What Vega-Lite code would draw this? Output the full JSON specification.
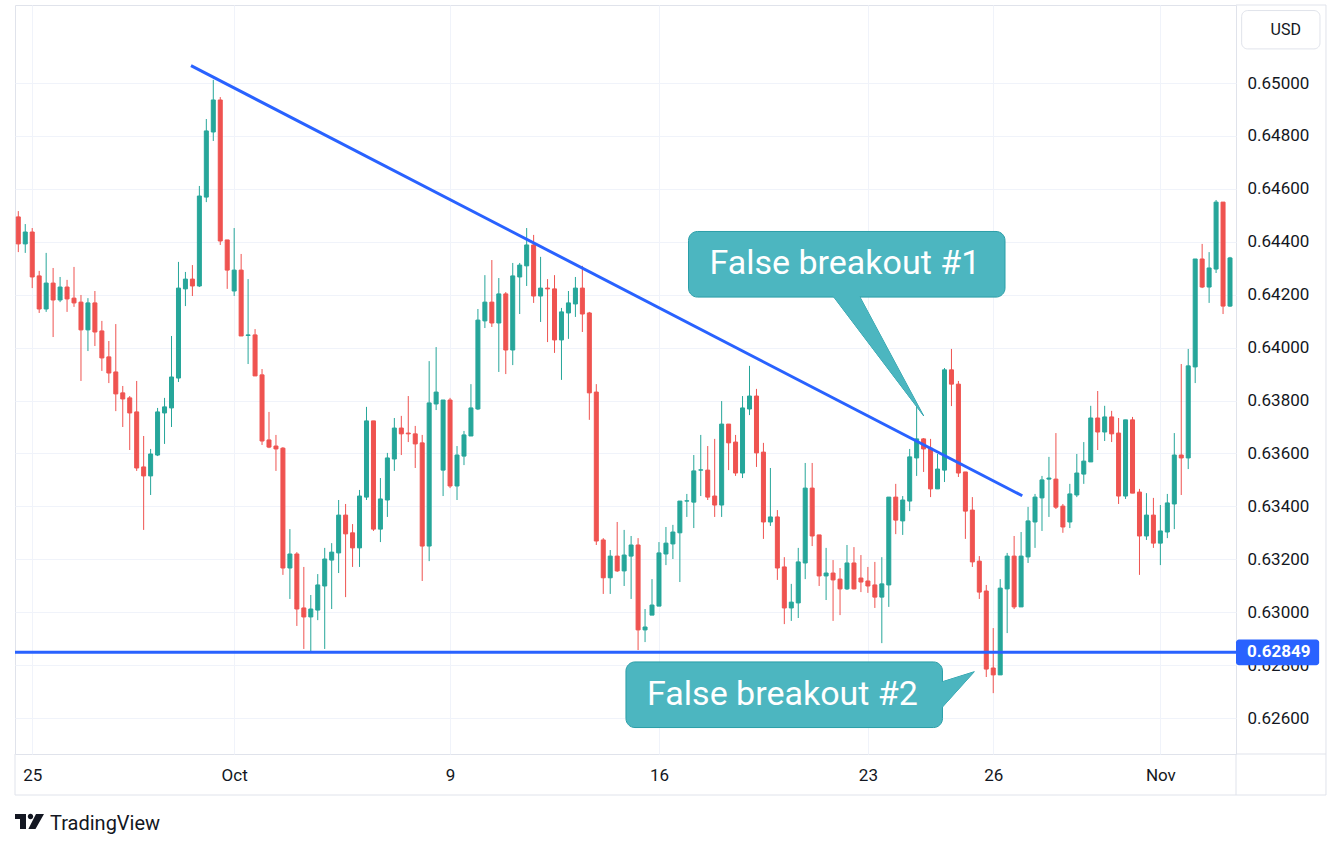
{
  "$schema": "https://vega.github.io/schema/vega-lite/v6.json",
  "width": 1221,
  "height": 749,
  "autosize": "none",
  "padding": {"left": 15, "top": 5, "right": 105, "bottom": 95},
  "background": "#ffffff",
  "datasets": {
    "candles": [
      {"i":0,"o":0.64494,"h":0.64516,"l":0.64361,"c":0.64392},
      {"i":1,"o":0.64392,"h":0.64467,"l":0.64358,"c":0.64437},
      {"i":2,"o":0.64437,"h":0.64452,"l":0.64225,"c":0.64267},
      {"i":3,"o":0.64271,"h":0.6429,"l":0.64131,"c":0.64146},
      {"i":4,"o":0.64146,"h":0.64358,"l":0.64135,"c":0.64244},
      {"i":5,"o":0.64244,"h":0.64301,"l":0.6404,"c":0.6418},
      {"i":6,"o":0.6418,"h":0.64267,"l":0.64172,"c":0.64229},
      {"i":7,"o":0.64229,"h":0.64256,"l":0.64135,"c":0.64184},
      {"i":8,"o":0.64187,"h":0.64305,"l":0.64154,"c":0.64169},
      {"i":9,"o":0.64172,"h":0.64199,"l":0.63874,"c":0.64067},
      {"i":10,"o":0.64067,"h":0.64187,"l":0.63987,"c":0.64169},
      {"i":11,"o":0.64169,"h":0.64214,"l":0.64006,"c":0.64059},
      {"i":12,"o":0.64063,"h":0.64101,"l":0.63912,"c":0.63961},
      {"i":13,"o":0.63965,"h":0.64025,"l":0.63866,"c":0.63904},
      {"i":14,"o":0.63908,"h":0.64089,"l":0.6376,"c":0.63825},
      {"i":15,"o":0.63829,"h":0.63855,"l":0.637,"c":0.63806},
      {"i":16,"o":0.6381,"h":0.63817,"l":0.63613,"c":0.63753},
      {"i":17,"o":0.63757,"h":0.63874,"l":0.63534,"c":0.63545},
      {"i":18,"o":0.63549,"h":0.63666,"l":0.63311,"c":0.63515},
      {"i":19,"o":0.63515,"h":0.63617,"l":0.63443,"c":0.63598},
      {"i":20,"o":0.63594,"h":0.63772,"l":0.6359,"c":0.63757},
      {"i":21,"o":0.63753,"h":0.6381,"l":0.63636,"c":0.63776},
      {"i":22,"o":0.63772,"h":0.64044,"l":0.637,"c":0.63889},
      {"i":23,"o":0.63885,"h":0.64324,"l":0.6387,"c":0.64225},
      {"i":24,"o":0.64222,"h":0.64286,"l":0.64157,"c":0.64259},
      {"i":25,"o":0.64259,"h":0.64312,"l":0.64195,"c":0.64233},
      {"i":26,"o":0.64233,"h":0.64611,"l":0.64229,"c":0.64573},
      {"i":27,"o":0.64569,"h":0.64864,"l":0.6455,"c":0.64819},
      {"i":28,"o":0.64815,"h":0.65012,"l":0.64781,"c":0.64936},
      {"i":29,"o":0.64936,"h":0.64947,"l":0.64388,"c":0.64403},
      {"i":30,"o":0.64407,"h":0.64407,"l":0.64222,"c":0.64293},
      {"i":31,"o":0.64214,"h":0.64452,"l":0.64195,"c":0.64293},
      {"i":32,"o":0.64293,"h":0.64354,"l":0.64044,"c":0.64044},
      {"i":33,"o":0.64046,"h":0.64259,"l":0.63938,"c":0.64048},
      {"i":34,"o":0.64048,"h":0.6407,"l":0.63893,"c":0.63893},
      {"i":35,"o":0.63897,"h":0.63919,"l":0.63632,"c":0.63647},
      {"i":36,"o":0.63651,"h":0.63757,"l":0.6362,"c":0.63624},
      {"i":37,"o":0.63628,"h":0.6367,"l":0.63534,"c":0.63617},
      {"i":38,"o":0.6362,"h":0.63624,"l":0.63141,"c":0.63167},
      {"i":39,"o":0.63167,"h":0.63314,"l":0.6305,"c":0.6322},
      {"i":40,"o":0.6322,"h":0.63227,"l":0.62948,"c":0.63012},
      {"i":41,"o":0.63016,"h":0.63171,"l":0.62861,"c":0.62982},
      {"i":42,"o":0.62982,"h":0.63065,"l":0.62846,"c":0.63012},
      {"i":43,"o":0.63008,"h":0.63144,"l":0.6297,"c":0.63103},
      {"i":44,"o":0.63099,"h":0.63243,"l":0.62861,"c":0.63201},
      {"i":45,"o":0.63197,"h":0.63261,"l":0.63012,"c":0.63227},
      {"i":46,"o":0.63224,"h":0.63424,"l":0.63148,"c":0.63367},
      {"i":47,"o":0.63367,"h":0.63409,"l":0.63057,"c":0.63296},
      {"i":48,"o":0.633,"h":0.63333,"l":0.63171,"c":0.63243},
      {"i":49,"o":0.63243,"h":0.63462,"l":0.63171,"c":0.63439},
      {"i":50,"o":0.63435,"h":0.63776,"l":0.63424,"c":0.63723},
      {"i":51,"o":0.63723,"h":0.63723,"l":0.63307,"c":0.63314},
      {"i":52,"o":0.63314,"h":0.63507,"l":0.63265,"c":0.63428},
      {"i":53,"o":0.63424,"h":0.63602,"l":0.6336,"c":0.63583},
      {"i":54,"o":0.63579,"h":0.63734,"l":0.63534,"c":0.63696},
      {"i":55,"o":0.63696,"h":0.63742,"l":0.63594,"c":0.63674},
      {"i":56,"o":0.63677,"h":0.63817,"l":0.63643,"c":0.63674},
      {"i":57,"o":0.63674,"h":0.63704,"l":0.63545,"c":0.63636},
      {"i":58,"o":0.6364,"h":0.6367,"l":0.63118,"c":0.6325},
      {"i":59,"o":0.6325,"h":0.63949,"l":0.63193,"c":0.63791},
      {"i":60,"o":0.63787,"h":0.64002,"l":0.63764,"c":0.63832},
      {"i":61,"o":0.63537,"h":0.63802,"l":0.63439,"c":0.63802},
      {"i":62,"o":0.63802,"h":0.6381,"l":0.63469,"c":0.63477},
      {"i":63,"o":0.63477,"h":0.63628,"l":0.63424,"c":0.63594},
      {"i":64,"o":0.6359,"h":0.63685,"l":0.63556,"c":0.6367},
      {"i":65,"o":0.63666,"h":0.63862,"l":0.63666,"c":0.63772},
      {"i":66,"o":0.63768,"h":0.64146,"l":0.63764,"c":0.64104},
      {"i":67,"o":0.64101,"h":0.64274,"l":0.64074,"c":0.64172},
      {"i":68,"o":0.64172,"h":0.64331,"l":0.64078,"c":0.64093},
      {"i":69,"o":0.64093,"h":0.64263,"l":0.63908,"c":0.64203},
      {"i":70,"o":0.64203,"h":0.6421,"l":0.639,"c":0.63991},
      {"i":71,"o":0.63991,"h":0.6432,"l":0.63934,"c":0.64271},
      {"i":72,"o":0.64267,"h":0.6432,"l":0.64127,"c":0.64312},
      {"i":73,"o":0.64309,"h":0.64452,"l":0.64233,"c":0.64388},
      {"i":74,"o":0.64388,"h":0.64426,"l":0.64169,"c":0.64195},
      {"i":75,"o":0.64195,"h":0.64343,"l":0.64097,"c":0.64225},
      {"i":76,"o":0.64225,"h":0.64259,"l":0.64021,"c":0.64222},
      {"i":77,"o":0.64222,"h":0.64274,"l":0.6398,"c":0.64029},
      {"i":78,"o":0.64029,"h":0.6415,"l":0.63878,"c":0.64135},
      {"i":79,"o":0.64131,"h":0.64214,"l":0.64033,"c":0.64169},
      {"i":80,"o":0.64165,"h":0.64267,"l":0.64116,"c":0.64225},
      {"i":81,"o":0.64225,"h":0.64309,"l":0.64059,"c":0.64127},
      {"i":82,"o":0.64131,"h":0.64135,"l":0.63727,"c":0.63829},
      {"i":83,"o":0.63832,"h":0.63862,"l":0.63254,"c":0.63269},
      {"i":84,"o":0.63273,"h":0.6328,"l":0.63069,"c":0.6313},
      {"i":85,"o":0.6313,"h":0.63235,"l":0.63069,"c":0.63212},
      {"i":86,"o":0.63212,"h":0.63341,"l":0.63152,"c":0.63156},
      {"i":87,"o":0.63156,"h":0.63311,"l":0.63099,"c":0.63216},
      {"i":88,"o":0.63212,"h":0.63288,"l":0.6305,"c":0.63254},
      {"i":89,"o":0.63254,"h":0.6328,"l":0.62857,"c":0.62933},
      {"i":90,"o":0.62933,"h":0.63012,"l":0.62887,"c":0.62944},
      {"i":91,"o":0.62989,"h":0.63125,"l":0.62989,"c":0.63027},
      {"i":92,"o":0.63023,"h":0.63265,"l":0.63023,"c":0.63224},
      {"i":93,"o":0.6322,"h":0.63322,"l":0.63178,"c":0.63261},
      {"i":94,"o":0.63258,"h":0.6333,"l":0.63201,"c":0.63303},
      {"i":95,"o":0.633,"h":0.6342,"l":0.63114,"c":0.6342},
      {"i":96,"o":0.6342,"h":0.63447,"l":0.6336,"c":0.63421},
      {"i":97,"o":0.63416,"h":0.63594,"l":0.63318,"c":0.63534},
      {"i":98,"o":0.63537,"h":0.6367,"l":0.63439,"c":0.63538},
      {"i":99,"o":0.63537,"h":0.63628,"l":0.63424,"c":0.63435},
      {"i":100,"o":0.63439,"h":0.63655,"l":0.6336,"c":0.63405},
      {"i":101,"o":0.63405,"h":0.63798,"l":0.6336,"c":0.63711},
      {"i":102,"o":0.63711,"h":0.63711,"l":0.63537,"c":0.6364},
      {"i":103,"o":0.63643,"h":0.6367,"l":0.63515,"c":0.63526},
      {"i":104,"o":0.63526,"h":0.63817,"l":0.63507,"c":0.63772},
      {"i":105,"o":0.63768,"h":0.63931,"l":0.63745,"c":0.63817},
      {"i":106,"o":0.63817,"h":0.63844,"l":0.63549,"c":0.63602},
      {"i":107,"o":0.63605,"h":0.6364,"l":0.63277,"c":0.63341},
      {"i":108,"o":0.63341,"h":0.63545,"l":0.63326,"c":0.6336},
      {"i":109,"o":0.6336,"h":0.63386,"l":0.63122,"c":0.63167},
      {"i":110,"o":0.63171,"h":0.63208,"l":0.62955,"c":0.63016},
      {"i":111,"o":0.63016,"h":0.63107,"l":0.62967,"c":0.63038},
      {"i":112,"o":0.63035,"h":0.63243,"l":0.62978,"c":0.6319},
      {"i":113,"o":0.63186,"h":0.63564,"l":0.63125,"c":0.63469},
      {"i":114,"o":0.63469,"h":0.63564,"l":0.6325,"c":0.63288},
      {"i":115,"o":0.63292,"h":0.63292,"l":0.63099,"c":0.63137},
      {"i":116,"o":0.63137,"h":0.63243,"l":0.63046,"c":0.63148},
      {"i":117,"o":0.63148,"h":0.63197,"l":0.62967,"c":0.63122},
      {"i":118,"o":0.63125,"h":0.63167,"l":0.62989,"c":0.63088},
      {"i":119,"o":0.63088,"h":0.63254,"l":0.63084,"c":0.63186},
      {"i":120,"o":0.63186,"h":0.63246,"l":0.63086,"c":0.63088},
      {"i":121,"o":0.63129,"h":0.63216,"l":0.63076,"c":0.63114},
      {"i":122,"o":0.63118,"h":0.63171,"l":0.63073,"c":0.63099},
      {"i":123,"o":0.63103,"h":0.6319,"l":0.63016,"c":0.63057},
      {"i":124,"o":0.63057,"h":0.63208,"l":0.62883,"c":0.63107},
      {"i":125,"o":0.63103,"h":0.63435,"l":0.6302,"c":0.63435},
      {"i":126,"o":0.63435,"h":0.63485,"l":0.63295,"c":0.63348},
      {"i":127,"o":0.63345,"h":0.63439,"l":0.63292,"c":0.63424},
      {"i":128,"o":0.6342,"h":0.63617,"l":0.63382,"c":0.63587},
      {"i":129,"o":0.63583,"h":0.63776,"l":0.63515,"c":0.63655},
      {"i":130,"o":0.63655,"h":0.63658,"l":0.6353,"c":0.63617},
      {"i":131,"o":0.6362,"h":0.63655,"l":0.63435,"c":0.63466},
      {"i":132,"o":0.63466,"h":0.63598,"l":0.63466,"c":0.63541},
      {"i":133,"o":0.63537,"h":0.63923,"l":0.63492,"c":0.63916},
      {"i":134,"o":0.63916,"h":0.63995,"l":0.63779,"c":0.63862},
      {"i":135,"o":0.63862,"h":0.63874,"l":0.63511,"c":0.63526},
      {"i":136,"o":0.6353,"h":0.6353,"l":0.63277,"c":0.63382},
      {"i":137,"o":0.63386,"h":0.63435,"l":0.63171,"c":0.6319},
      {"i":138,"o":0.63193,"h":0.63212,"l":0.6305,"c":0.63076},
      {"i":139,"o":0.6308,"h":0.63103,"l":0.62755,"c":0.62785},
      {"i":140,"o":0.62789,"h":0.6294,"l":0.62694,"c":0.62763},
      {"i":141,"o":0.62763,"h":0.63125,"l":0.62763,"c":0.63091},
      {"i":142,"o":0.63088,"h":0.63224,"l":0.62921,"c":0.63212},
      {"i":143,"o":0.63212,"h":0.63288,"l":0.63012,"c":0.6302},
      {"i":144,"o":0.6302,"h":0.63303,"l":0.6302,"c":0.63212},
      {"i":145,"o":0.63209,"h":0.63398,"l":0.63186,"c":0.63345},
      {"i":146,"o":0.63341,"h":0.63447,"l":0.63243,"c":0.63435},
      {"i":147,"o":0.63432,"h":0.63515,"l":0.63307,"c":0.635},
      {"i":148,"o":0.63503,"h":0.63587,"l":0.6336,"c":0.63507},
      {"i":149,"o":0.63503,"h":0.63677,"l":0.6339,"c":0.63397},
      {"i":150,"o":0.63401,"h":0.63409,"l":0.633,"c":0.63322},
      {"i":151,"o":0.63341,"h":0.63485,"l":0.63318,"c":0.63447},
      {"i":152,"o":0.63443,"h":0.63598,"l":0.63435,"c":0.63526},
      {"i":153,"o":0.63522,"h":0.63643,"l":0.63485,"c":0.63571},
      {"i":154,"o":0.63568,"h":0.6378,"l":0.63568,"c":0.63734},
      {"i":155,"o":0.63734,"h":0.63836,"l":0.63613,"c":0.63681},
      {"i":156,"o":0.63681,"h":0.6378,"l":0.63647,"c":0.63738},
      {"i":157,"o":0.63738,"h":0.63761,"l":0.63643,"c":0.63674},
      {"i":158,"o":0.63677,"h":0.63734,"l":0.63409,"c":0.63439},
      {"i":159,"o":0.63439,"h":0.63727,"l":0.63428,"c":0.63727},
      {"i":160,"o":0.63727,"h":0.63738,"l":0.6345,"c":0.6345},
      {"i":161,"o":0.63454,"h":0.63466,"l":0.63141,"c":0.63288},
      {"i":162,"o":0.63288,"h":0.6345,"l":0.63273,"c":0.63367},
      {"i":163,"o":0.63367,"h":0.63432,"l":0.63243,"c":0.63261},
      {"i":164,"o":0.63261,"h":0.63405,"l":0.63178,"c":0.63307},
      {"i":165,"o":0.63303,"h":0.63447,"l":0.6328,"c":0.63413},
      {"i":166,"o":0.63409,"h":0.63677,"l":0.63314,"c":0.63594},
      {"i":167,"o":0.63594,"h":0.63938,"l":0.63443,"c":0.63583},
      {"i":168,"o":0.63583,"h":0.63995,"l":0.63541,"c":0.63931},
      {"i":169,"o":0.63927,"h":0.64335,"l":0.63866,"c":0.64335},
      {"i":170,"o":0.64335,"h":0.64392,"l":0.64225,"c":0.64229},
      {"i":171,"o":0.64229,"h":0.64361,"l":0.64169,"c":0.64301},
      {"i":172,"o":0.64297,"h":0.64558,"l":0.64282,"c":0.6455},
      {"i":173,"o":0.6455,"h":0.6455,"l":0.64127,"c":0.64157},
      {"i":174,"o":0.64157,"h":0.64343,"l":0.64154,"c":0.64339}
    ],
    "frame": [
      {"x":174.86,"x2":187.78,"y":0.65295,"y2":0.65295},
      {"x":187.78,"x2":187.78,"y":0.65295,"y2":0.62309},
      {"x":-0.474,"x2":187.78,"y":0.62309,"y2":0.62309},
      {"x":-0.474,"x2":-0.474,"y":0.62464,"y2":0.62309},
      {"x":174.86,"x2":187.78,"y":0.62464,"y2":0.62464},
      {"x":174.86,"x2":174.86,"y":0.62464,"y2":0.62309}
    ],
    "lines": [
      {"x":-0.474,"x2":174.86,"y":0.62849,"y2":0.62849},
      {"x":24.8,"x2":144.17,"y":0.65066,"y2":0.6344}
    ],
    "boxes": [
      {"x":96.24,"x2":141.69,"y":0.64439,"y2":0.64191},
      {"x":87.26,"x2":132.71,"y":0.62812,"y2":0.62564}
    ],
    "tail1": [
      {"y":0.6421,"x":116.56,"x2":120.48},
      {"y":0.63742,"x":130.01,"x2":130.01}
    ],
    "tail2": [
      {"x":132.07,"y":0.62732,"y2":0.62623},
      {"x":137.28,"y":0.62775,"y2":0.62775}
    ],
    "notes": [
      {"x":118.7,"y":0.64277,"t":"False breakout #1"},
      {"x":109.74,"y":0.62648,"t":"False breakout #2"}
    ]
  },
  "layer": [
    {
      "data": {"name": "candles"},
      "mark": {"type": "rule", "strokeWidth": 1},
      "encoding": {
        "x": {"field": "i", "type": "quantitative", "title": null,
          "scale": {"domain": [-0.474, 174.86], "nice": false, "zero": false, "padding": 0},
          "axis": {"values": [2, 31, 62, 92, 122, 140, 164], "grid": true,
            "labelExpr": "datum.value == 2 ? '25' : datum.value == 31 ? 'Oct' : datum.value == 62 ? '9' : datum.value == 92 ? '16' : datum.value == 122 ? '23' : datum.value == 140 ? '26' : 'Nov'"}},
        "y": {"field": "l", "type": "quantitative", "title": null,
          "scale": {"domain": [0.62464, 0.65295], "nice": false, "zero": false, "padding": 0},
          "axis": {"orient": "right", "grid": true, "format": ".5f",
            "values": [0.626, 0.628, 0.63, 0.632, 0.634, 0.636, 0.638, 0.64, 0.642, 0.644, 0.646, 0.648, 0.65]}},
        "y2": {"field": "h"},
        "stroke": {"condition": {"test": "datum.c >= datum.o", "value": "#26a69a"}, "value": "#ef5350"}
      }
    },
    {
      "data": {"name": "candles"},
      "mark": {"type": "bar", "width": 4, "strokeWidth": 1},
      "encoding": {
        "x": {"field": "i", "type": "quantitative", "title": null, "scale": {"domain": [-0.474, 174.86], "nice": false, "zero": false, "padding": 0}},
        "y": {"field": "o", "type": "quantitative", "title": null, "scale": {"domain": [0.62464, 0.65295], "nice": false, "zero": false, "padding": 0}},
        "y2": {"field": "c"},
        "fill": {"condition": {"test": "datum.c >= datum.o", "value": "#26a69a"}, "value": "#ef5350"},
        "stroke": {"condition": {"test": "datum.c >= datum.o", "value": "#26a69a"}, "value": "#ef5350"}
      }
    },
    {
      "data": {"name": "frame"},
      "mark": {"type": "rule", "stroke": "#e0e3eb", "strokeWidth": 1},
      "encoding": {
        "x": {"field": "x", "type": "quantitative", "title": null, "scale": {"domain": [-0.474, 174.86], "nice": false, "zero": false, "padding": 0}},
        "x2": {"field": "x2"},
        "y": {"field": "y", "type": "quantitative", "title": null, "scale": {"domain": [0.62464, 0.65295], "nice": false, "zero": false, "padding": 0}},
        "y2": {"field": "y2"}
      }
    },
    {
      "data": {"name": "lines"},
      "mark": {"type": "rule", "stroke": "#2962ff", "strokeWidth": 3},
      "encoding": {
        "x": {"field": "x", "type": "quantitative", "title": null, "scale": {"domain": [-0.474, 174.86], "nice": false, "zero": false, "padding": 0}},
        "x2": {"field": "x2"},
        "y": {"field": "y", "type": "quantitative", "title": null, "scale": {"domain": [0.62464, 0.65295], "nice": false, "zero": false, "padding": 0}},
        "y2": {"field": "y2"}
      }
    },
    {
      "data": {"name": "tail1"},
      "mark": {"type": "area", "orient": "horizontal", "fill": "#4cb6c0", "stroke": "#2a9ea8", "strokeWidth": 1, "opacity": 1},
      "encoding": {
        "y": {"field": "y", "type": "quantitative", "title": null, "scale": {"domain": [0.62464, 0.65295], "nice": false, "zero": false, "padding": 0}},
        "x": {"field": "x", "type": "quantitative", "title": null, "scale": {"domain": [-0.474, 174.86], "nice": false, "zero": false, "padding": 0}},
        "x2": {"field": "x2"}
      }
    },
    {
      "data": {"name": "tail2"},
      "mark": {"type": "area", "orient": "vertical", "fill": "#4cb6c0", "stroke": "#2a9ea8", "strokeWidth": 1, "opacity": 1},
      "encoding": {
        "x": {"field": "x", "type": "quantitative", "title": null, "scale": {"domain": [-0.474, 174.86], "nice": false, "zero": false, "padding": 0}},
        "y": {"field": "y", "type": "quantitative", "title": null, "scale": {"domain": [0.62464, 0.65295], "nice": false, "zero": false, "padding": 0}},
        "y2": {"field": "y2"}
      }
    },
    {
      "data": {"name": "boxes"},
      "mark": {"type": "rect", "fill": "#4cb6c0", "stroke": "#2a9ea8", "strokeWidth": 1, "cornerRadius": 9},
      "encoding": {
        "x": {"field": "x", "type": "quantitative", "title": null, "scale": {"domain": [-0.474, 174.86], "nice": false, "zero": false, "padding": 0}},
        "x2": {"field": "x2"},
        "y": {"field": "y", "type": "quantitative", "title": null, "scale": {"domain": [0.62464, 0.65295], "nice": false, "zero": false, "padding": 0}},
        "y2": {"field": "y2"}
      }
    },
    {
      "data": {"name": "tail1"},
      "mark": {"type": "area", "orient": "horizontal", "fill": "#4cb6c0", "opacity": 1},
      "encoding": {
        "y": {"field": "y", "type": "quantitative", "title": null, "scale": {"domain": [0.62464, 0.65295], "nice": false, "zero": false, "padding": 0}},
        "x": {"field": "x", "type": "quantitative", "title": null, "scale": {"domain": [-0.474, 174.86], "nice": false, "zero": false, "padding": 0}},
        "x2": {"field": "x2"}
      }
    },
    {
      "data": {"name": "tail2"},
      "mark": {"type": "area", "orient": "vertical", "fill": "#4cb6c0", "opacity": 1},
      "encoding": {
        "x": {"field": "x", "type": "quantitative", "title": null, "scale": {"domain": [-0.474, 174.86], "nice": false, "zero": false, "padding": 0}},
        "y": {"field": "y", "type": "quantitative", "title": null, "scale": {"domain": [0.62464, 0.65295], "nice": false, "zero": false, "padding": 0}},
        "y2": {"field": "y2"}
      }
    },
    {
      "data": {"name": "notes"},
      "mark": {"type": "text", "font": "Roboto", "fontSize": 34, "color": "#ffffff", "align": "center", "baseline": "alphabetic"},
      "encoding": {
        "x": {"field": "x", "type": "quantitative", "title": null, "scale": {"domain": [-0.474, 174.86], "nice": false, "zero": false, "padding": 0}},
        "y": {"field": "y", "type": "quantitative", "title": null, "scale": {"domain": [0.62464, 0.65295], "nice": false, "zero": false, "padding": 0}},
        "text": {"field": "t"}
      }
    },
    {
      "data": {"values": [{"x": 174.86, "x2": 186.8, "y": 0.62897, "y2": 0.62799}]},
      "mark": {"type": "rect", "fill": "#2962ff", "cornerRadius": 3},
      "encoding": {
        "x": {"field": "x", "type": "quantitative", "title": null, "scale": {"domain": [-0.474, 174.86], "nice": false, "zero": false, "padding": 0}},
        "x2": {"field": "x2"},
        "y": {"field": "y", "type": "quantitative", "title": null, "scale": {"domain": [0.62464, 0.65295], "nice": false, "zero": false, "padding": 0}},
        "y2": {"field": "y2"}
      }
    },
    {
      "data": {"values": [{"x": 181.0, "y": 0.62849, "t": "0.62849"}]},
      "mark": {"type": "text", "font": "Roboto", "fontSize": 17, "fontWeight": "bold", "color": "#ffffff", "align": "center", "baseline": "middle"},
      "encoding": {
        "x": {"field": "x", "type": "quantitative", "title": null, "scale": {"domain": [-0.474, 174.86], "nice": false, "zero": false, "padding": 0}},
        "y": {"field": "y", "type": "quantitative", "title": null, "scale": {"domain": [0.62464, 0.65295], "nice": false, "zero": false, "padding": 0}},
        "text": {"field": "t"}
      }
    },
    {
      "data": {"values": [{"x": 175.67, "x2": 186.92, "y": 0.65274, "y2": 0.65129}]},
      "mark": {"type": "rect", "fill": "#ffffff", "stroke": "#e0e3eb", "strokeWidth": 1, "cornerRadius": 6},
      "encoding": {
        "x": {"field": "x", "type": "quantitative", "title": null, "scale": {"domain": [-0.474, 174.86], "nice": false, "zero": false, "padding": 0}},
        "x2": {"field": "x2"},
        "y": {"field": "y", "type": "quantitative", "title": null, "scale": {"domain": [0.62464, 0.65295], "nice": false, "zero": false, "padding": 0}},
        "y2": {"field": "y2"}
      }
    },
    {
      "data": {"values": [{"x": 182.0, "y": 0.65201, "t": "USD"}]},
      "mark": {"type": "text", "font": "Roboto", "fontSize": 16, "color": "#131722", "align": "center", "baseline": "middle"},
      "encoding": {
        "x": {"field": "x", "type": "quantitative", "title": null, "scale": {"domain": [-0.474, 174.86], "nice": false, "zero": false, "padding": 0}},
        "y": {"field": "y", "type": "quantitative", "title": null, "scale": {"domain": [0.62464, 0.65295], "nice": false, "zero": false, "padding": 0}},
        "text": {"field": "t"}
      }
    },
    {
      "data": {"values": [{"x": 1.608, "y": 0.62209}]},
      "mark": {"type": "point", "filled": true, "size": 841, "color": "#131722", "opacity": 1, "strokeWidth": 0,
        "shape": "M-1,-0.517L-0.241,-0.517L-0.241,0.517L-0.655,0.517L-0.655,-0.172L-1,-0.172Z M-0.117,-0.345A0.186,0.186 0 1,0 0.255,-0.345A0.186,0.186 0 1,0 -0.117,-0.345Z M0.448,-0.517L1,-0.517L0.414,0.517L-0.08,0.517Z"},
      "encoding": {
        "x": {"field": "x", "type": "quantitative", "title": null, "scale": {"domain": [-0.474, 174.86], "nice": false, "zero": false, "padding": 0}},
        "y": {"field": "y", "type": "quantitative", "title": null, "scale": {"domain": [0.62464, 0.65295], "nice": false, "zero": false, "padding": 0}}
      }
    },
    {
      "data": {"values": [{"x": 4.55, "y": 0.62177, "t": "TradingView"}]},
      "mark": {"type": "text", "font": "Roboto", "fontSize": 20, "color": "#131722", "align": "left", "baseline": "alphabetic"},
      "encoding": {
        "x": {"field": "x", "type": "quantitative", "title": null, "scale": {"domain": [-0.474, 174.86], "nice": false, "zero": false, "padding": 0}},
        "y": {"field": "y", "type": "quantitative", "title": null, "scale": {"domain": [0.62464, 0.65295], "nice": false, "zero": false, "padding": 0}},
        "text": {"field": "t"}
      }
    }
  ],
  "config": {
    "view": {"stroke": "#e0e3eb", "strokeWidth": 1},
    "scale": {"continuousPadding": 0},
    "axis": {"labelFont": "Roboto", "labelFontSize": 17, "labelColor": "#131722", "gridColor": "#f0f3fa", "gridWidth": 1, "domain": false, "ticks": false, "tickSize": 0},
    "axisX": {"labelPadding": 13},
    "axisY": {"labelPadding": 11}
  }
}
